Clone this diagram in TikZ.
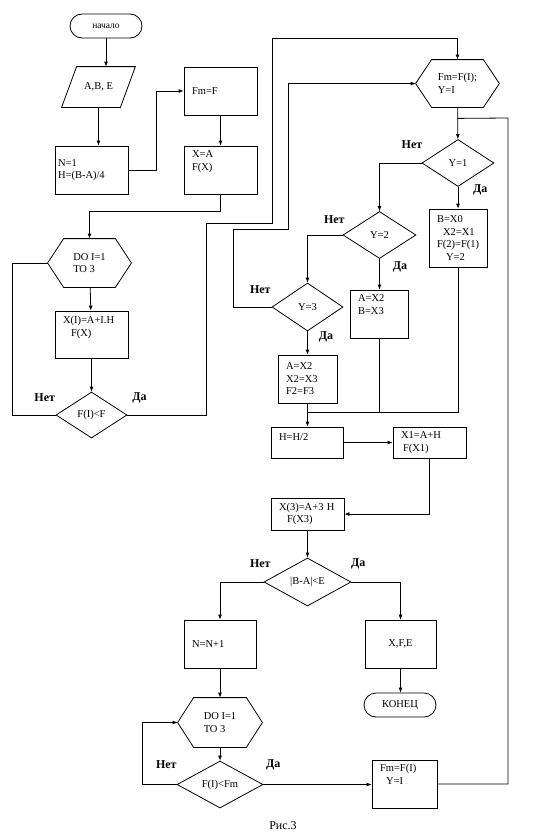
\documentclass[tikz,border=0pt]{standalone}
\usepackage{fontspec}
\setmainfont{Liberation Serif}
\usetikzlibrary{shapes.geometric,arrows.meta}

\begin{document}
\begin{tikzpicture}[x=1pt,y=-1pt,% pixel units, y runs downwards
        line width=0.8pt,
        every node/.style={font=\fontsize{10.5}{12.5}\selectfont},
        box/.style={draw,align=left,inner xsep=8pt,inner ysep=0pt,text width=#1,minimum height=48pt},
        box/.default=57pt,
        up/.style={text depth=#1},% pushes the lines to the top of a box
        term/.style={draw,rounded corners=12pt,minimum width=72pt,minimum height=24pt},
        hex/.style={minimum width=83pt,minimum height=48pt,align=left},% outline drawn below
        dec/.style={draw,diamond,inner sep=0pt,minimum width=#1,minimum height=47pt},
        dec/.default=72pt,
        arr/.style={-{Latex[length=5pt,width=4pt]}},
        lbl/.style={font=\bfseries\fontsize{12}{14}\selectfont}]
\useasboundingbox (0,0) rectangle (534,838);

% left column
\node[term,font=\fontsize{9.5}{12}\selectfont] (start) at (106,26) {начало};
\node[minimum width=73pt,minimum height=40pt] (inp) at (98.5,87) {A,B, E};
\node[box,inner xsep=3pt,text width=67pt] (n1) at (91.5,170) {N=1\\H=(B-A)/4};
\node[box] (fmf) at (220.5,91) {Fm=F};
\node[box,up=31pt] (xa) at (220.5,170) {X=A\\F(X)};
\node[hex] (do1) at (89.5,263) {DO I=1\\TO 3};
\node[box,minimum height=47pt,up=29pt] (xi) at (91.5,334.5) {X(I)=A+I.H\\\hspace*{8pt}F(X)};
\node[dec=71pt,minimum height=46pt] (d1) at (91.5,415) {F(I)<F};

% right part
\node[hex,minimum height=47pt] (fmi) at (457.5,83.5) {Fm=F(I);\\Y=I};
\node[dec] (dy1) at (458,163) {Y=1};
\node[box=42pt,minimum height=58pt] (bx0) at (458,238) {B=X0\\\hspace*{6pt}X2=X1\\F(2)=F(1)\\\hspace*{9pt}Y=2};
\node[dec=73pt] (dy2) at (379.5,235) {Y=2};
\node[box=42pt,up=31pt] (ab) at (379,314) {A=X2\\B=X3};
\node[dec=71pt,minimum height=48pt] (dy3) at (307.5,307) {Y=3};
\node[box=43pt] (axf) at (307.5,379) {A=X2\\X2=X3\\F2=F3};
\coordinate (mrg) at (307.5,412);
\node[box=56pt,minimum height=31pt,up=11pt] (hh) at (307,442.5) {H=H/2};
\node[box,minimum height=31pt] (x1) at (429.5,442.5) {X1=A+H\\\hspace*{2pt}F(X1)};
\node[box,minimum height=32pt] (x3) at (307.5,514) {X(3)=A+3 H\\\hspace*{8pt}F(X3)};
\node[dec=87pt,minimum height=48pt] (dba) at (307.5,582) {|B-A|<E};
\node[box=56pt] (nn) at (220,644) {N=N+1};
\node[box=55pt,align=center] (xfe) at (400.5,644) {X,F,E};
\node[term] (fin) at (400,705) {КОНЕЦ};
\node[hex,minimum width=84pt,minimum height=49pt] (do2) at (220,722.5) {DO I=1\\TO 3};
\node[dec=86pt] (dfm) at (220,784.5) {F(I)<Fm};
\node[box=49pt,up=32pt] (fmi2) at (404.5,784) {Fm=F(I)\\\hspace*{6pt}Y=I};

\draw ([xshift=15pt]inp.north west) -- (inp.north east) -- ([xshift=-15pt]inp.south east) -- (inp.south west) -- cycle;
\foreach \h in {do1,fmi,do2}{ % hexagon outlines
\draw ([xshift=16pt]\h.north west) -- ([xshift=-16pt]\h.north east) -- (\h.east)
  -- ([xshift=-16pt]\h.south east) -- ([xshift=16pt]\h.south west) -- (\h.west) -- cycle;
}

\foreach[count=\i] \x/\y/\t in {44.7/398/Нет,139.5/398/Да,412/145/Нет,480.3/190/Да,
  334.3/220/Нет,400/267/Да,260.3/290/Нет,326/337/Да,260.3/563.7/Нет,358.3/563.7/Да,
  166.3/765/Нет,273.3/765/Да}{ %\i is the counter
\node[lbl] (lbl-\i) at (\x,\y) {\t};
}
\node[font=\fontsize{12}{14}\selectfont] (cap) at (283,826) {Рис.3};

% connectors
\draw[arr] (start) -- (start |- inp.north);
\draw[arr] (inp.south) -- (inp.south |- n1.north);
\draw[arr] (n1.east) -- (156,170) |- (fmf.west);
\draw[arr] (fmf) -- (xa);
\draw[arr] (xa.south) -- (220.5,211) -| (do1.north);
\draw[arr] (do1) -- (xi);
\draw[arr] (xi) -- (d1);
\draw (d1.west) -- (12,415) |- (do1.west);
\draw[arr] (d1.east) -| (206,223) -| (272,38) -| (fmi.north);
\draw[arr] (dy3.west) -| (233,229) -| (288,83.5) -- (fmi.west);
\draw[arr] (fmi) -- (dy1);
\draw[arr] (dy1.west) -| (dy2.north);
\draw[arr] (dy1) -- (bx0);
\draw[arr] (dy2.west) -| (dy3.north);
\draw[arr] (dy2.south) -- (dy2.south |- ab.north);
\draw[arr] (dy3) -- (axf);
\draw (ab.south) |- (mrg);
\draw (bx0.south) |- (mrg);
\draw[arr] (axf.south) -- (axf.south |- hh.north);
\draw[arr] (hh.east) -- (x1.west);
\draw[arr] (x1.south) |- (x3.east);
\draw[arr] (x3) -- (dba);
\draw[arr] (dba.west) -| (nn.north);
\draw[arr] (dba.east) -| (xfe.north);
\draw[arr] (xfe.south) -- (xfe.south |- fin.north);
\draw[arr] (nn) -- (do2);
\draw[arr] (do2) -- (dfm);
\draw[arr] (dfm.west) -- (142,784.5) |- (do2.west);
\draw[arr] (dfm.east) -- (dfm.east -| fmi2.west);
\draw (fmi2.east) -| (508,118) -- ([yshift=-11pt]fmi.south);

\end{tikzpicture}
\end{document}
